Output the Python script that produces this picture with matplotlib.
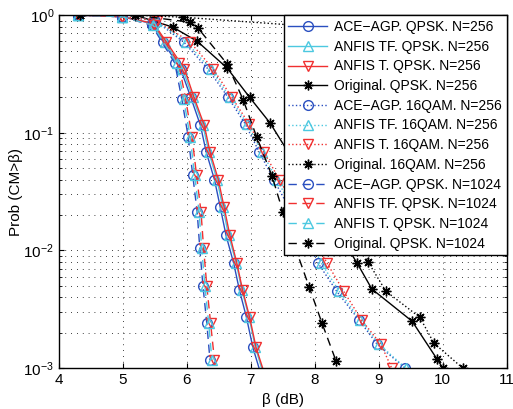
import matplotlib
matplotlib.use('Agg')
import matplotlib.pyplot as plt
import numpy as np

plt.rcParams['font.family'] = ['Liberation Sans', 'DejaVu Sans']
plt.rcParams['mathtext.default'] = 'regular'

# QPSK, N=256 (solid)
x_ace_q256 = [4.30, 4.98, 5.45, 5.63, 5.90, 6.06, 6.21, 6.30, 6.43, 6.52, 6.61, 6.73, 6.82, 6.93, 7.03, 7.18]
x_tf_q256 = [4.30, 4.98, 5.47, 5.66, 5.93, 6.09, 6.25, 6.34, 6.47, 6.56, 6.65, 6.77, 6.86, 6.97, 7.07, 7.22]
x_t_q256 = [4.30, 4.98, 5.48, 5.68, 5.96, 6.11, 6.27, 6.36, 6.49, 6.58, 6.67, 6.78, 6.87, 6.98, 7.08, 7.24]
p_q256 = [1.0, 0.97, 0.85, 0.59, 0.35, 0.20, 0.116, 0.069, 0.040, 0.0234, 0.0135, 0.0078, 0.0046, 0.0027, 0.0015, 0.0008]

# 16QAM, N=256 (dotted)
x_ace_16 = [4.30, 4.98, 5.50, 5.95, 6.33, 6.64, 6.91, 7.13, 7.36, 7.59, 7.83, 8.05, 8.34, 8.69, 8.97, 9.41]
x_tf_16 = [4.30, 4.98, 5.52, 5.99, 6.37, 6.67, 6.94, 7.17, 7.41, 7.64, 7.89, 8.10, 8.38, 8.71, 9.00, 9.42]
x_t_16 = [4.30, 4.98, 5.53, 6.05, 6.41, 6.70, 6.97, 7.20, 7.45, 7.69, 7.94, 8.19, 8.45, 8.73, 9.03, 9.20]
p_16 = [1.0, 0.97, 0.90, 0.59, 0.348, 0.201, 0.119, 0.0686, 0.0396, 0.0234, 0.0135, 0.0078, 0.0045, 0.00256, 0.0016, 0.001]

# QPSK, N=1024 (dashed)
x_ace_q1024 = [4.30, 4.98, 5.45, 5.81, 5.92, 6.02, 6.09, 6.16, 6.20, 6.25, 6.31, 6.36]
x_tf_q1024 = [4.30, 4.98, 5.48, 5.87, 5.98, 6.08, 6.15, 6.22, 6.26, 6.31, 6.37, 6.43]
x_t_q1024 = [4.30, 4.98, 5.47, 5.84, 5.95, 6.05, 6.12, 6.19, 6.23, 6.28, 6.34, 6.39]
p_q1024 = [1.0, 0.97, 0.82, 0.391, 0.193, 0.092, 0.0437, 0.0212, 0.0105, 0.0050, 0.0024, 0.00117]

# Original curves (asterisks)
x_org_q256 = [4.33, 5.19, 5.78, 6.16, 6.63, 6.98, 7.30, 8.66, 8.89, 9.52, 9.91, 10.00]
p_org_q256 = [1.0, 1.0, 0.79, 0.60, 0.354, 0.20, 0.121, 0.0078, 0.0047, 0.0025, 0.00119, 0.001]
x_org_16 = [4.33, 5.19, 5.94, 7.70, 8.10, 8.45, 8.83, 9.11, 9.64, 9.86, 10.31]
p_org_16 = [1.0, 1.0, 0.96, 0.82, 0.25, 0.04, 0.0080, 0.0045, 0.0027, 0.00163, 0.001]
x_org_q1024 = [4.33, 5.19, 6.05, 6.17, 6.63, 6.88, 7.09, 7.33, 7.50, 7.70, 7.91, 8.11, 8.33]
p_org_q1024 = [1.0, 1.0, 0.87, 0.78, 0.383, 0.190, 0.092, 0.0429, 0.0212, 0.0103, 0.00489, 0.00242, 0.00115]

BLUE = '#2a4fc0'
CYAN = '#4cc8e0'
RED = '#f03030'
AST = (8, 2, 0)

fig = plt.figure(figsize=(5.13, 4.09), dpi=100)
ax = fig.add_axes([0.115, 0.100, 0.873, 0.863])

mk = dict(markersize=7, markerfacecolor='none', lw=1.0, mew=1.0)
mks = dict(markersize=7, lw=1.0, mew=1.0)

ax.semilogy(x_ace_q256, p_q256, '-', color=BLUE, marker='o', label='ACE\u2212AGP. QPSK. N=256', **mk)
ax.semilogy(x_tf_q256, p_q256, '-', color=CYAN, marker='^', label='ANFIS TF. QPSK. N=256', **mk)
ax.semilogy(x_t_q256, p_q256, '-', color=RED, marker='v', label='ANFIS T. QPSK. N=256', **mk)
ax.semilogy(x_org_q256, p_org_q256, '-', color='black', marker=AST, label='Original. QPSK. N=256', **mks)

ax.semilogy(x_ace_16, p_16, ':', color=BLUE, marker='o', label='ACE\u2212AGP. 16QAM. N=256', **mk)
ax.semilogy(x_tf_16, p_16, ':', color=CYAN, marker='^', label='ANFIS TF. 16QAM. N=256', **mk)
ax.semilogy(x_t_16, p_16, ':', color=RED, marker='v', label='ANFIS T. 16QAM. N=256', **mk)
ax.semilogy(x_org_16, p_org_16, ':', color='black', marker=AST, label='Original. 16QAM. N=256', **mks)

dash = (0, (6, 4))
ax.semilogy(x_ace_q1024, p_q1024, linestyle=dash, color=BLUE, marker='o', label='ACE\u2212AGP. QPSK. N=1024', **mk)
ax.semilogy(x_tf_q1024, p_q1024, linestyle=dash, color=RED, marker='v', label='ANFIS TF. QPSK. N=1024', **mk)
ax.semilogy(x_t_q1024, p_q1024, linestyle=dash, color=CYAN, marker='^', label='ANFIS T. QPSK. N=1024', **mk)
ax.semilogy(x_org_q1024, p_org_q1024, linestyle=dash, color='black', marker=AST, label='Original. QPSK. N=1024', **mks)

ax.set_xlim(4, 11)
ax.set_ylim(1e-3, 1)
ax.set_xticks(range(4, 12))
ax.grid(True, which='major', linestyle=(0, (1, 6)), color='black', lw=0.6)
ax.grid(True, which='minor', axis='y', linestyle=(0, (1, 6)), color='black', lw=0.6)
ax.tick_params(which='both', direction='in', top=True, right=True, labelsize=11)
for s in ax.spines.values():
    s.set_linewidth(1.0)

ax.set_xlabel('\u03b2 (dB)', fontsize=11)
ax.set_ylabel('Prob (CM>\u03b2)', fontsize=11, labelpad=0)

leg = ax.legend(loc='upper right', fontsize=10.0, frameon=True, fancybox=False,
                edgecolor='black', framealpha=1, borderaxespad=0, labelspacing=0.41,
                handlelength=2.8, handletextpad=0.5, borderpad=0.35)
leg.get_frame().set_linewidth(1.0)

fig.savefig('out.png', dpi=100)
